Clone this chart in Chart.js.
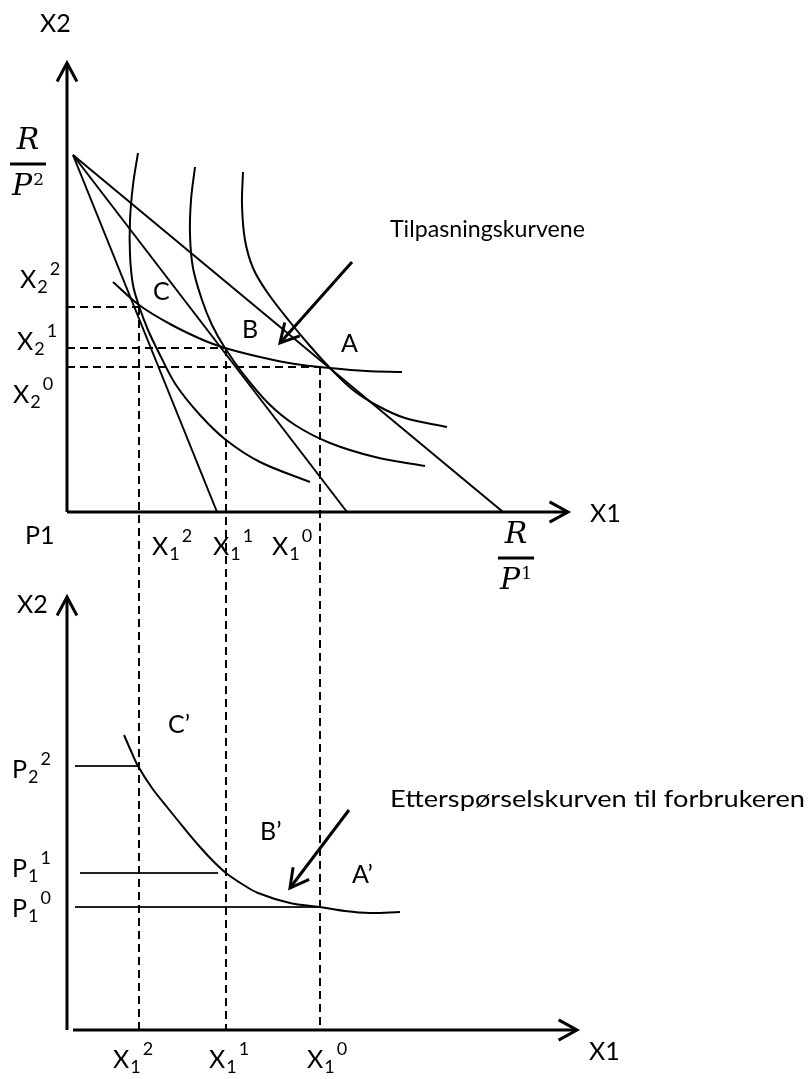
<!DOCTYPE html>
<html><head><meta charset="utf-8">
<script src="https://cdn.jsdelivr.net/npm/chart.js@4/dist/chart.umd.min.js"></script>
<style>html,body{margin:0;padding:0;background:#fff;overflow:hidden}canvas{display:block}</style>
</head><body>
<canvas id="c" width="809" height="1079"></canvas>
<script>
// ---------------- DATA ----------------
// Budget lines: common X2-intercept R/P2, three X1-intercepts R/P1 (price 0, 1, 2)
const budgetApexX1 = 0.12;
const R_over_P2 = 7.14;
const R_over_P1 = [8.72, 5.6, 3.0];

// Optimal bundles A (0), B (1), C (2)
const x1Opt = [5.06, 3.18, 1.44];
const x2Opt = [2.9, 3.28, 4.1];

// Indifference curves
const ic1X = [1.42, 1.32, 1.26, 1.26, 1.32, 1.44, 1.62, 1.86, 2.18, 2.66, 3.18, 3.86, 4.86];
const ic1Y = [7.18, 6.54, 5.84, 5.14, 4.54, 4.12, 3.64, 3.14, 2.54, 1.94, 1.44, 1.0, 0.6];
const ic2X = [2.56, 2.48, 2.46, 2.52, 2.7, 2.9, 3.16, 3.54, 4.02, 4.56, 5.26, 6.16, 7.16];
const ic2Y = [6.9, 6.24, 5.54, 4.88, 4.24, 3.74, 3.28, 2.74, 2.18, 1.74, 1.38, 1.1, 0.92];
const ic3X = [3.52, 3.5, 3.56, 3.72, 4.0, 4.46, 4.86, 5.26, 5.72, 6.22, 6.76, 7.6];
const ic3Y = [6.8, 6.14, 5.44, 4.88, 4.4, 3.8, 3.32, 2.88, 2.44, 2.12, 1.88, 1.7];

// Price-consumption curve (Tilpasningskurvene)
const pccX = [0.92, 1.44, 2.06, 2.72, 3.16, 3.86, 4.56, 5.26, 5.98, 6.7];
const pccY = [4.6, 4.14, 3.76, 3.44, 3.28, 3.1, 2.96, 2.88, 2.82, 2.8];

// Demand curve (bottom panel)
const demandX = [1.14, 1.28, 1.42, 1.7, 2.0, 2.34, 2.66, 2.92, 3.18, 3.5, 3.82, 4.46, 5.06, 5.56, 6.06, 6.66];
const demandP = [5.9, 5.58, 5.28, 4.84, 4.46, 4.04, 3.66, 3.38, 3.14, 2.92, 2.74, 2.54, 2.46, 2.38, 2.34, 2.36];

// Price levels P1^0, P1^1, P2^2 and their horizontal guide segments
const priceLevels = [2.46, 3.14, 5.28];
const priceLineStart = [0.16, 0.26, 0.16];
const priceLineEnd = [5.06, 3.02, 1.44];

// Axis extents (data units)
const topAxisX1Max = 10.02, topAxisX2Max = 8.98;
const botAxisX1Start = 0.12, botAxisX1Max = 10.2, botAxisPMax = 8.66;

// ---------------- LABELS (layout) ----------------
const FONT = 'Lato, "Open Sans", sans-serif';
const labelsTop = [
  {t:'X2', x:-0.54, y:9.6},
  {t:'X', sub:'2', sup:'2', x:-0.94, y:4.48},
  {t:'X', sub:'2', sup:'1', x:-1.0, y:3.24},
  {t:'X', sub:'2', sup:'0', x:-1.08, y:2.18},
  {t:'C', x:1.72, y:4.24},
  {t:'B', x:3.5, y:3.48},
  {t:'A', x:5.48, y:3.2},
  {t:'P1', x:-0.84, y:-0.64},
  {t:'X', sub:'1', sup:'2', x:1.7, y:-0.86},
  {t:'X', sub:'1', sup:'1', x:2.92, y:-0.86},
  {t:'X', sub:'1', sup:'0', x:4.1, y:-0.86},
  {t:'X1', x:10.46, y:-0.2},
  {t:'Tilpasningskurvene', x:6.46, y:5.5, w:195}
];
const labelsBot = [
  {t:'X2', x:-1.0, y:8.34},
  {t:'C\u2019', x:2.02, y:5.94},
  {t:'B\u2019', x:3.86, y:3.8},
  {t:'A\u2019', x:5.7, y:2.94},
  {t:'P', sub:'2', sup:'2', x:-1.1, y:5.04},
  {t:'P', sub:'1', sup:'1', x:-1.1, y:3.06},
  {t:'P', sub:'1', sup:'0', x:-1.1, y:2.26},
  {t:'X', sub:'1', sup:'2', x:0.92, y:-0.76},
  {t:'X', sub:'1', sup:'1', x:2.84, y:-0.76},
  {t:'X', sub:'1', sup:'0', x:4.8, y:-0.76},
  {t:'X1', x:10.44, y:-0.6},
  {t:'Etterspørselskurven til forbrukeren', x:6.46, y:4.46, w:415}
];
const fracTop = {x:-0.78, y:6.96, sup:'2'};
const fracBot = {x:8.98, y:-0.92, sup:'1'};
const arrowTop = {fromX:5.7, fromY:5.0, toX:4.26, toY:3.38};
const arrowBot = {fromX:5.64, fromY:4.4, toX:4.46, toY:2.84};

// ---------------- DATASETS ----------------
const pts = (xs, ys) => xs.map((v, i) => ({x: v, y: ys[i]}));
const base = {showLine:true, pointRadius:0, borderColor:'#000', borderWidth:2, fill:false};
const datasets = [];
R_over_P1.forEach(r => datasets.push(Object.assign({}, base, {
  yAxisID:'yT', tension:0, data:[{x:budgetApexX1, y:R_over_P2}, {x:r, y:0}]})));
[[ic1X, ic1Y], [ic2X, ic2Y], [ic3X, ic3Y]].forEach(([xs, ys]) => datasets.push(Object.assign({}, base, {
  yAxisID:'yT', tension:0.35, data:pts(xs, ys)})));
datasets.push(Object.assign({}, base, {yAxisID:'yT', tension:0.35, data:pts(pccX, pccY)}));
x1Opt.forEach((v, i) => datasets.push(Object.assign({}, base, {
  yAxisID:'yT', tension:0, borderDash:[8,5], data:[{x:0, y:x2Opt[i]}, {x:v, y:x2Opt[i]}]})));
datasets.push(Object.assign({}, base, {yAxisID:'yB', tension:0.35, data:pts(demandX, demandP)}));
priceLevels.forEach((p, i) => datasets.push(Object.assign({}, base, {
  yAxisID:'yB', tension:0, borderColor:'#222', data:[{x:priceLineStart[i], y:p}, {x:priceLineEnd[i], y:p}]})));

// ---------------- DRAWING HELPERS ----------------
function arrowHead(ctx, tx, ty, fx, fy, len, ang) {
  const a = Math.atan2(fy - ty, fx - tx);
  ctx.beginPath();
  ctx.moveTo(tx + len * Math.cos(a + ang), ty + len * Math.sin(a + ang));
  ctx.lineTo(tx, ty);
  ctx.lineTo(tx + len * Math.cos(a - ang), ty + len * Math.sin(a - ang));
  ctx.stroke();
}
function drawLabel(ctx, px, py, L) {
  ctx.textAlign = 'left'; ctx.textBaseline = 'alphabetic';
  if (L.w) {
    ctx.font = '24px ' + FONT;
    const mw = ctx.measureText(L.t).width;
    ctx.save(); ctx.translate(px, py); ctx.scale(L.w / mw, 1);
    ctx.fillText(L.t, 0, 0); ctx.restore();
    return;
  }
  ctx.font = '25px ' + FONT;
  ctx.fillText(L.t, px, py);
  if (L.sub) {
    const w = ctx.measureText(L.t).width;
    ctx.font = '18px ' + FONT;
    const sx = px + w + 1;
    ctx.fillText(L.sub, sx, py + 5);
    const sw = ctx.measureText(L.sub).width;
    ctx.fillText(L.sup, sx + sw + 2, py - 13);
  }
}
function drawFrac(ctx, cx, by, sup) {
  ctx.textBaseline = 'alphabetic';
  ctx.textAlign = 'center';
  ctx.font = 'italic 30px "DejaVu Serif", serif';
  ctx.fillText('R', cx, by - 15);
  ctx.fillRect(cx - 18, by - 1.5, 36, 3);
  ctx.textAlign = 'left';
  const pw = ctx.measureText('P').width;
  ctx.font = '17px "DejaVu Serif", serif';
  const sw = ctx.measureText(sup).width;
  const start = cx - (pw + sw + 1) / 2;
  ctx.font = 'italic 30px "DejaVu Serif", serif';
  ctx.fillText('P', start, by + 31);
  ctx.font = '17px "DejaVu Serif", serif';
  ctx.fillText(sup, start + pw + 1, by + 21);
}

const diagram = {
  id: 'diagram',
  afterDatasetsDraw(chart) {
    const {ctx} = chart;
    const {x, yT, yB} = chart.scales;
    ctx.save();
    ctx.strokeStyle = '#000'; ctx.fillStyle = '#000';
    ctx.lineCap = 'butt'; ctx.lineJoin = 'miter';

    // dashed verticals from each optimum down to the bottom X1 axis
    ctx.lineWidth = 2; ctx.setLineDash([8, 5]);
    x1Opt.forEach((v, i) => {
      const px = x.getPixelForValue(v);
      ctx.beginPath();
      ctx.moveTo(px, yT.getPixelForValue(x2Opt[i]));
      ctx.lineTo(px, yB.getPixelForValue(0));
      ctx.stroke();
    });
    ctx.setLineDash([]);

    // axes with open arrowheads
    ctx.lineWidth = 3;
    const x0 = x.getPixelForValue(0);
    const topY0 = yT.getPixelForValue(0), topYTip = yT.getPixelForValue(topAxisX2Max);
    const topXTip = x.getPixelForValue(topAxisX1Max);
    ctx.beginPath(); ctx.moveTo(x0, topY0); ctx.lineTo(x0, topYTip); ctx.stroke();
    ctx.beginPath(); ctx.moveTo(x0, topY0); ctx.lineTo(topXTip, topY0); ctx.stroke();
    arrowHead(ctx, x0, topYTip, x0, topYTip + 50, 21, 0.49);
    arrowHead(ctx, topXTip, topY0, topXTip - 50, topY0, 21, 0.5);
    const botY0 = yB.getPixelForValue(0), botYTip = yB.getPixelForValue(botAxisPMax);
    const botXStart = x.getPixelForValue(botAxisX1Start), botXTip = x.getPixelForValue(botAxisX1Max);
    ctx.beginPath(); ctx.moveTo(x0, botY0); ctx.lineTo(x0, botYTip); ctx.stroke();
    ctx.beginPath(); ctx.moveTo(botXStart, botY0); ctx.lineTo(botXTip, botY0); ctx.stroke();
    arrowHead(ctx, x0, botYTip, x0, botYTip + 50, 21, 0.49);
    arrowHead(ctx, botXTip, botY0, botXTip - 50, botY0, 21, 0.5);

    // annotation arrows
    [[arrowTop, yT], [arrowBot, yB]].forEach(([a, ys]) => {
      const fx = x.getPixelForValue(a.fromX), fy = ys.getPixelForValue(a.fromY);
      const tx = x.getPixelForValue(a.toX), ty = ys.getPixelForValue(a.toY);
      ctx.beginPath(); ctx.moveTo(fx, fy); ctx.lineTo(tx, ty); ctx.stroke();
      arrowHead(ctx, tx, ty, fx, fy, 21, 0.5);
    });

    // labels
    labelsTop.forEach(L => drawLabel(ctx, x.getPixelForValue(L.x), yT.getPixelForValue(L.y), L));
    labelsBot.forEach(L => drawLabel(ctx, x.getPixelForValue(L.x), yB.getPixelForValue(L.y), L));
    drawFrac(ctx, x.getPixelForValue(fracTop.x), yT.getPixelForValue(fracTop.y), fracTop.sup);
    drawFrac(ctx, x.getPixelForValue(fracBot.x), yT.getPixelForValue(fracBot.y), fracBot.sup);
    ctx.restore();
  }
};

new Chart(document.getElementById('c'), {
  type: 'scatter',
  data: {datasets},
  options: {
    responsive: false, animation: false, events: [],
    layout: {padding: 0},
    plugins: {legend: {display: false}, tooltip: {enabled: false}},
    scales: {
      x: {type:'linear', display:false, min:-1.34, max:14.84},
      yT: {type:'linear', axis:'y', position:'left', display:false, min:-11.34, max:10.24},
      yB: {type:'linear', axis:'y', position:'left', display:false, min:-0.98, max:20.6}
    }
  },
  plugins: [diagram]
});
</script>
</body></html>
